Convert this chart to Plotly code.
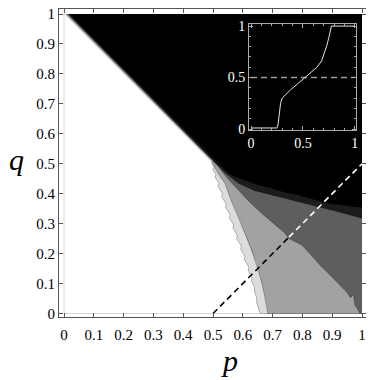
import plotly.graph_objects as go

# ---------------- data ----------------
tick_vals = [0, 0.1, 0.2, 0.3, 0.4, 0.5, 0.6, 0.7, 0.8, 0.9, 1]
tick_text = ["0", "0.1", "0.2", "0.3", "0.4", "0.5", "0.6", "0.7", "0.8", "0.9", "1"]

# region boundaries: each starts on its diagonal q = 1 - p + offset, then follows the contour
diag_offset = {"vdark": 0.018, "dark": 0.0135, "medium": 0.009, "light": 0.0045, "white": 0.0}

vdark_p = [0.515, 0.540, 0.570, 0.607, 0.650, 0.697, 0.740, 0.786, 0.830, 0.865, 0.900, 0.943, 0.970, 1.000]
vdark_q = [0.503, 0.479, 0.458, 0.446, 0.430, 0.418, 0.405, 0.396, 0.383, 0.373, 0.366, 0.360, 0.357, 0.355]

dark_p = [0.505, 0.540, 0.585, 0.640, 0.697, 0.750, 0.809, 0.870, 0.920, 0.960, 1.000]
dark_q = [0.5085, 0.470, 0.435, 0.410, 0.396, 0.382, 0.368, 0.352, 0.340, 0.328, 0.318]

medium_p = [0.500, 0.518, 0.550, 0.585, 0.620, 0.663, 0.700, 0.742, 0.753, 0.775, 0.798, 0.820,
            0.842, 0.865, 0.887, 0.910, 0.932, 0.950, 0.962, 0.968, 0.972, 0.976, 0.985, 0.993]
medium_q = [0.509, 0.490, 0.450, 0.412, 0.375, 0.335, 0.305, 0.268, 0.251, 0.240, 0.229, 0.205,
            0.179, 0.155, 0.134, 0.110, 0.089, 0.070, 0.052, 0.064, 0.058, 0.028, 0.015, 0.000]

light_p = [0.497, 0.510, 0.525, 0.540, 0.560, 0.585, 0.607, 0.630, 0.645, 0.658, 0.667, 0.674, 0.680, 0.684]
light_q = [0.5075, 0.480, 0.455, 0.435, 0.380, 0.323, 0.268, 0.212, 0.168, 0.123, 0.090, 0.056, 0.025, 0.000]

white_p = [0.494, 0.503, 0.500, 0.510, 0.507, 0.520, 0.517, 0.532, 0.529, 0.545, 0.542, 0.558, 0.555,
           0.570, 0.567, 0.582, 0.580, 0.595, 0.593, 0.607, 0.605, 0.620, 0.618, 0.630, 0.629, 0.640,
           0.639, 0.647, 0.646, 0.652, 0.655, 0.658]
white_q = [0.506, 0.490, 0.480, 0.465, 0.455, 0.435, 0.425, 0.400, 0.390, 0.365, 0.355, 0.330, 0.320,
           0.295, 0.285, 0.260, 0.250, 0.225, 0.215, 0.190, 0.180, 0.155, 0.145, 0.120, 0.110, 0.085,
           0.075, 0.050, 0.040, 0.020, 0.010, 0.000]

# dashed reference line q = p - 0.5, colour switches where it enters the dark region
dash_p = [0.5, 0.755, 1.0]
dash_q = [0.0, 0.255, 0.5]

# inset curve
inset_x = [0, 0.25, 0.26, 0.27, 0.285, 0.30, 0.34, 0.38, 0.45, 0.51, 0.57, 0.635, 0.68, 0.71,
           0.73, 0.75, 0.765, 0.775, 0.8, 1.0]
inset_y = [0.01, 0.01, 0.04, 0.15, 0.25, 0.30, 0.345, 0.38, 0.44, 0.49, 0.54, 0.60, 0.66, 0.74,
           0.81, 0.89, 0.96, 1.0, 1.0, 1.0]
inset_ticks = [0, 0.5, 1]
inset_ticktext = ["0", "0.5", "1"]

# ---------------- styles ----------------
fills = {"vdark": "#1c1c1c", "dark": "#5e5e5e", "medium": "#a2a2a2", "light": "#dcdcdc", "white": "#ffffff"}
curves = {"vdark": (vdark_p, vdark_q), "dark": (dark_p, dark_q), "medium": (medium_p, medium_q),
          "light": (light_p, light_q), "white": (white_p, white_q)}
SERIF = "Liberation Serif, Times New Roman, Times, DejaVu Serif, serif"

fig = go.Figure()

# black base over the whole data square
fig.add_trace(go.Scatter(x=[0, 1, 1, 0], y=[0, 0, 1, 1], fill="toself", fillcolor="#000000",
                         mode="lines", line=dict(width=0), hoverinfo="skip", showlegend=False))

for key in ["vdark", "dark", "medium", "light", "white"]:
    cp, cq = curves[key]
    xs = [0, 0, diag_offset[key]] + list(cp)
    ys = [0, 1, 1] + list(cq)
    if cq[-1] > 0:
        xs += [1]
        ys += [0]
    fig.add_trace(go.Scatter(x=xs, y=ys, fill="toself", fillcolor=fills[key], mode="lines",
                             line=dict(width=0), hoverinfo="skip", showlegend=False))

for key in ["vdark", "dark", "medium", "light", "white"]:
    cp, cq = curves[key]
    fig.add_trace(go.Scatter(x=cp, y=cq, mode="lines", line=dict(color="rgba(0,0,0,0.35)", width=0.8),
                             hoverinfo="skip", showlegend=False))

# faint region border on the white side
fig.add_trace(go.Scatter(x=[0, 0, white_p[-1]], y=[1, 0, 0], mode="lines",
                         line=dict(color="#d8d8d8", width=1), hoverinfo="skip", showlegend=False))

# dashed line
fig.add_trace(go.Scatter(x=dash_p[:2], y=dash_q[:2], mode="lines",
                         line=dict(color="#000000", width=1.6, dash="6px,4px"), showlegend=False))
fig.add_trace(go.Scatter(x=dash_p[1:], y=dash_q[1:], mode="lines",
                         line=dict(color="#ffffff", width=1.6, dash="6px,4px"), showlegend=False))

# inset
fig.add_trace(go.Scatter(x=[0, 1], y=[0.5, 0.5], mode="lines", xaxis="x2", yaxis="y2",
                         line=dict(color="#9a9a9a", width=1.5, dash="6px,4px"), showlegend=False))
fig.add_trace(go.Scatter(x=inset_x, y=inset_y, mode="lines", xaxis="x2", yaxis="y2",
                         line=dict(color="#e6e6e6", width=1), showlegend=False))

main_axis = dict(showgrid=False, zeroline=False, showline=True, linecolor="#555555", linewidth=1,
                 mirror="allticks", ticks="inside", ticklen=4, tickcolor="#555555",
                 tickvals=tick_vals, ticktext=tick_text, automargin=False, ticklabeloverflow="allow",
                 tickfont=dict(family=SERIF, size=15, color="#000000"))
inset_axis = dict(showgrid=False, zeroline=False, showline=True, linecolor="#aaaaaa", linewidth=1,
                  mirror="allticks", ticks="inside", ticklen=4, tickcolor="#aaaaaa",
                  tickvals=inset_ticks, ticktext=inset_ticktext, automargin=False,
                  minor=dict(ticks="inside", dtick=0.1, ticklen=2, tickcolor="#aaaaaa"),
                  tickfont=dict(family=SERIF, size=14, color="#ffffff"))

# the page body adds an 8px offset, so the figure is 8px smaller and the margins are shifted
fig.update_layout(
    width=366, height=372,
    margin=dict(l=51, r=8, t=1, b=63),
    paper_bgcolor="#ffffff", plot_bgcolor="rgba(0,0,0,0)",
    xaxis=dict(main_axis, range=[-0.0168, 1.0134], domain=[0, 1], ticklabelstandoff=4),
    yaxis=dict(main_axis, range=[-0.0117, 1.0167], domain=[0, 1]),
    xaxis2=dict(inset_axis, range=[-0.019, 1.01], domain=[0.619, 0.967], anchor="y2"),
    yaxis2=dict(inset_axis, range=[-0.01, 1.019], domain=[0.607, 0.951], anchor="x2"),
    annotations=[
        dict(text="<i>q</i>", xref="paper", yref="paper", x=-0.137, y=0.51, showarrow=False,
             xanchor="center", yanchor="middle", font=dict(family=SERIF, size=30, color="#000000")),
        dict(text="<i>p</i>", xref="paper", yref="paper", x=0.555, y=-0.14, showarrow=False,
             xanchor="center", yanchor="middle", font=dict(family=SERIF, size=30, color="#000000")),
    ],
)

fig.write_html("out.html")
